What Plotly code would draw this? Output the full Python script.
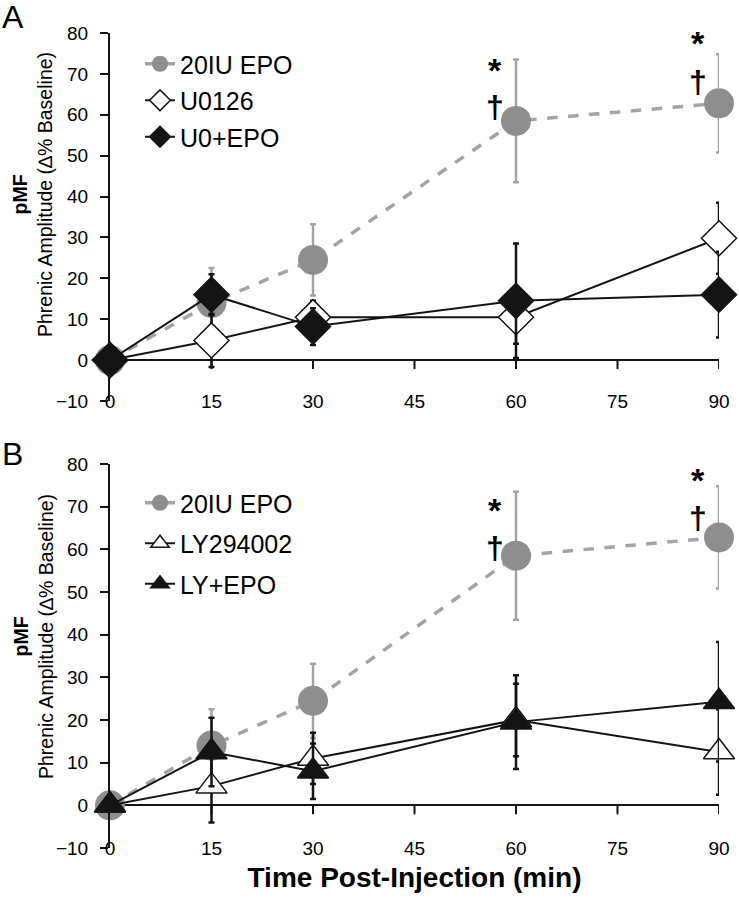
import plotly.graph_objects as go

# ---------------- data ----------------
time = [0, 15, 30, 60, 90]
x_ticks = [0, 15, 30, 45, 60, 75, 90]
y_ticks = [-10, 0, 10, 20, 30, 40, 50, 60, 70, 80]

epo_mean = [0, 14, 24.5, 58.5, 62.8]
epo_sem = [0, 8.5, 8.7, 15, 12]

u0126_mean = [0, 4.8, 10.5, 10.5, 29.8]
u0126_sem = [0, 6.5, 4, 6.5, 8.7]

u0epo_mean = [0, 16, 8.2, 14.5, 16]
u0epo_sem = [0, 5, 4.5, 14, 10.5]

ly_mean = [0, 4.5, 11, 20, 12.5]
ly_sem = [0, 8.5, 6, 8.5, 10]

lyepo_mean = [0, 12.5, 8, 19.5, 24.3]
lyepo_sem = [0, 8, 6.5, 11, 14]

# significance markers (* and †) above the EPO points
sig_time = [60, 90]
star_y_A = [71.0, 77.6]
dagger_y_A = [62.0, 68.0]
star_y_B = [69.3, 76.3]
dagger_y_B = [60.2, 67.4]

FONT = "Liberation Sans, Arial, Helvetica, sans-serif"
GRAY = "#8e8e8e"
GRAY_LINE = "#a3a3a3"
BLACK = "#141414"

fig = go.Figure()


def add_panel(xa, ya, legend, names, means, sems, symbols, fills):
    # EPO (gray, dashed)
    fig.add_trace(go.Scatter(
        x=time, y=means[0], name=names[0], xaxis=xa, yaxis=ya, legend=legend,
        legendgroup=legend + "0", mode="lines+markers", cliponaxis=False,
        line=dict(color=GRAY_LINE, width=3.5, dash="dash"),
        marker=dict(symbol="circle", size=30, color=GRAY),
        error_y=dict(type="data", array=sems[0], color=GRAY_LINE, thickness=2.5, width=3),
    ))
    for i in (1, 2):
        fig.add_trace(go.Scatter(
            x=time, y=means[i], name=names[i], xaxis=xa, yaxis=ya, legend=legend,
            legendgroup=legend + str(i), mode="lines+markers", cliponaxis=False,
            line=dict(color=BLACK, width=2),
            marker=dict(symbol=symbols[i], size=27, color=fills[i],
                        line=dict(color=BLACK, width=1.5)),
            error_y=dict(type="data", array=sems[i], color=BLACK, thickness=2.5, width=3),
        ))


add_panel("x", "y", "legend", ["20IU EPO", "U0126", "U0+EPO"],
          [epo_mean, u0126_mean, u0epo_mean], [epo_sem, u0126_sem, u0epo_sem],
          ["circle", "diamond", "diamond"], [GRAY, "white", BLACK])
add_panel("x2", "y2", "legend2", ["20IU EPO", "LY294002", "LY+EPO"],
          [epo_mean, ly_mean, lyepo_mean], [epo_sem, ly_sem, lyepo_sem],
          ["circle", "triangle-up", "triangle-up"], [GRAY, "white", BLACK])

# tick marks on the x axis line (y = 0)
shapes = []
for xr, yr in (("x", "y"), ("x2", "y2")):
    for t in x_ticks[1:]:
        shapes.append(dict(type="line", xref=xr, yref=yr, x0=t, x1=t,
                           ysizemode="pixel", yanchor=0, y0=0, y1=-9,
                           line=dict(color=BLACK, width=2)))

annotations = []
for xr, yr, sy, dy in (("x", "y", star_y_A, dagger_y_A), ("x2", "y2", star_y_B, dagger_y_B)):
    for t, s, d in zip(sig_time, sy, dy):
        annotations.append(dict(x=t, y=s, xref=xr, yref=yr, text="<b>*</b>", showarrow=False,
                                xshift=-21, yanchor="middle",
                                font=dict(family=FONT, size=34, color="black")))
        annotations.append(dict(x=t, y=d, xref=xr, yref=yr, text="<b>†</b>", showarrow=False,
                                xshift=-21, yanchor="middle",
                                font=dict(family=FONT, size=32, color="black")))

annotations.append(dict(x=0.0, y=1 - 17 / 899, xref="paper", yref="paper", text="A",
                        showarrow=False, xanchor="left", yanchor="middle",
                        font=dict(family=FONT, size=32, color="black")))
annotations.append(dict(x=0.0, y=1 - 454 / 899, xref="paper", yref="paper", text="B",
                        showarrow=False, xanchor="left", yanchor="middle",
                        font=dict(family=FONT, size=32, color="black")))

ytitle = "<b>pMF</b><br>Phrenic Amplitude (∆% Baseline)"
for yc in (195, 637):
    annotations.append(dict(x=33 / 739, y=1 - yc / 899, xref="paper", yref="paper",
                            text=ytitle, showarrow=False, textangle=-90,
                            xanchor="center", yanchor="middle",
                            font=dict(family=FONT, size=19.5, color="black")))

yaxis_common = dict(
    range=[-10, 80], tickvals=y_ticks, ticks="outside", ticklen=8, tickwidth=2,
    tickcolor=BLACK, showline=True, linewidth=2, linecolor=BLACK, showgrid=False,
    zeroline=True, zerolinecolor=BLACK, zerolinewidth=2,
    tickfont=dict(family=FONT, size=19, color="black"), automargin=False,
    ticklabelstandoff=8,
)
xaxis_common = dict(
    range=[0, 90], tickvals=x_ticks, ticks="", showline=False, showgrid=False,
    zeroline=False, tickfont=dict(family=FONT, size=19, color="black"),
    automargin=False, anchor="free", domain=[110 / 739, 719 / 739],
)

legend_common = dict(
    font=dict(family=FONT, size=25, color="black"), bgcolor="rgba(0,0,0,0)",
    xanchor="left", yanchor="top", itemclick=False, itemdoubleclick=False,
)

fig.update_layout(
    width=739, height=899,
    margin=dict(l=0, r=0, t=0, b=0),
    paper_bgcolor="white", plot_bgcolor="white",
    xaxis=dict(**xaxis_common, position=1 - 388 / 899),
    xaxis2=dict(**xaxis_common, position=1 - 835 / 899,
                title=dict(text="<b>Time Post-Injection (min)</b>",
                           font=dict(family=FONT, size=28, color="black"), standoff=9)),
    yaxis=dict(**yaxis_common, anchor="x", domain=[1 - 401 / 899, 1 - 33 / 899]),
    yaxis2=dict(**yaxis_common, anchor="x2", domain=[1 - 848 / 899, 1 - 464 / 899]),
    legend=dict(**legend_common, x=140 / 739, y=1 - 41 / 899, tracegroupgap=1),
    legend2=dict(**legend_common, x=140 / 739, y=1 - 480 / 899, tracegroupgap=5),
    shapes=shapes,
    annotations=annotations,
)

fig.write_html("out.html", config={"displayModeBar": False},
               post_script="document.body.style.margin='0';")
